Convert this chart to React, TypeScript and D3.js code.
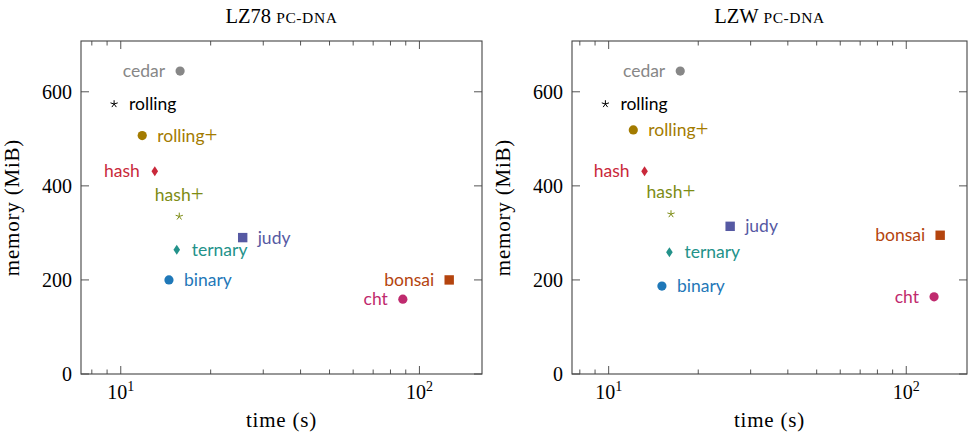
import React from 'react';
import * as d3 from 'd3';

const width = 969;
const height = 439;

const names = ['cedar', 'rolling', 'rolling+', 'hash', 'hash+', 'ternary', 'judy', 'binary', 'bonsai', 'cht'];
const markers = ['circle', 'star', 'circle', 'diamond', 'star', 'diamond', 'square', 'circle', 'square', 'circle'];
const colors = ['#878787', '#000000', '#a37b00', '#c9283a', '#7d8c14', '#23928a', '#5659a3', '#1f78b8', '#b4440e', '#bf2a6e'];
const labelPos = ['left', 'right', 'right', 'left', 'above', 'right', 'right', 'right', 'left', 'left'];

// LZ78 pc-dna
const lz78Time = [15.8, 9.5, 11.8, 13.0, 15.7, 15.4, 25.6, 14.5, 125.8, 88];
const lz78Mem = [644, 574, 507, 431, 335, 264, 290, 200, 200, 159];
// LZW pc-dna
const lzwTime = [17.4, 9.75, 12.1, 13.2, 16.2, 16.0, 25.6, 15.1, 130, 124];
const lzwMem = [644, 574, 519, 431, 340, 259, 314, 187, 295, 164];

const yTicks = [0, 200, 400, 600];

const serif = '"Liberation Serif", "DejaVu Serif", serif';
const sans = 'Lato, "Open Sans", sans-serif';

const Marker = ({ type, x, y, color }) => {
  if (type === 'circle') return <circle cx={x} cy={y} r={4.6} fill={color} />;
  if (type === 'square') return <rect x={x - 4.7} y={y - 4.7} width={9.4} height={9.4} fill={color} />;
  if (type === 'diamond') {
    return <path d={`M${x},${y - 5} L${x + 3.3},${y} L${x},${y + 5} L${x - 3.3},${y} Z`} fill={color} />;
  }
  // pgfplots "star": five strokes from the centre
  const arms = d3.range(5).map((i) => {
    const a = (-90 + i * 72) * Math.PI / 180;
    return `M${x},${y} L${x + 3.8 * Math.cos(a)},${y + 3.8 * Math.sin(a)}`;
  });
  return <path d={arms.join(' ')} stroke={color} strokeWidth={1} fill="none" />;
};

const Label = ({ name }) => {
  // the "+" in the original is a thin math plus
  if (name.endsWith('+')) {
    return (
      <>
        {name.slice(0, -1)}
        <tspan fontFamily={serif} fontSize={23}>+</tspan>
      </>
    );
  }
  return <>{name}</>;
};

const Panel = ({ title, times, mems, xDomain, left, right }) => {
  const top = 41;
  const bottom = 374;
  const x = d3.scaleLog().domain(xDomain).range([left, right]);
  const y = d3.scaleLinear().domain([0, 708]).range([bottom, top]);
  const xTicks = x.ticks();
  const cx = (left + right) / 2;
  const [head, tail] = title.split(' ');

  return (
    <g>
      <text x={cx} y={23} textAnchor="middle" fontFamily={serif} fontSize={20.5}>
        {head}{' '}
        <tspan fontSize={15.5} letterSpacing={0.6}>{tail.toUpperCase()}</tspan>
      </text>

      {xTicks.map((t) => {
        const major = Math.abs(Math.log10(t) - Math.round(Math.log10(t))) < 1e-9;
        const len = major ? 8 : 4.5;
        return (
          <g key={t}>
            <line x1={x(t)} x2={x(t)} y1={bottom} y2={bottom - len} stroke="#555" />
            <line x1={x(t)} x2={x(t)} y1={top} y2={top + len} stroke="#555" />
            {major && (
              <text x={x(t)} y={399} textAnchor="middle" fontFamily={serif} fontSize={20}>
                10<tspan fontSize={14} dy={-8}>{Math.round(Math.log10(t))}</tspan>
              </text>
            )}
          </g>
        );
      })}

      {yTicks.map((t) => (
        <g key={t}>
          <line x1={left} x2={left + 8} y1={y(t)} y2={y(t)} stroke="#555" />
          <line x1={right} x2={right - 8} y1={y(t)} y2={y(t)} stroke="#555" />
          <text x={left - 9} y={y(t)} dy="0.35em" textAnchor="end" fontFamily={serif} fontSize={20}>{t}</text>
        </g>
      ))}

      <rect x={left} y={top} width={right - left} height={bottom - top} fill="none" stroke="#444" strokeWidth={1.1} />

      <text x={cx} y={427} textAnchor="middle" fontFamily={serif} fontSize={21} letterSpacing={0.8}>time (s)</text>
      <text
        transform={`translate(${left - 62}, ${(top + bottom) / 2}) rotate(-90)`}
        textAnchor="middle"
        fontFamily={serif}
        fontSize={21}
        letterSpacing={0.8}>memory (MiB)</text>

      {names.map((name, i) => {
        const px = x(times[i]);
        const py = y(mems[i]);
        const pos = labelPos[i];
        let lx = px + 15;
        let ly = py;
        let anchor = 'start';
        if (pos === 'left') { lx = px - 15; anchor = 'end'; }
        if (pos === 'above') { lx = px; ly = py - 22; anchor = 'middle'; }
        return (
          <g key={name}>
            <Marker type={markers[i]} x={px} y={py} color={colors[i]} />
            <text x={lx} y={ly} dy="0.35em" textAnchor={anchor} fontFamily={sans} fontSize={17.5} fill={colors[i]}>
              <Label name={name} />
            </text>
          </g>
        );
      })}
    </g>
  );
};

export default function App() {
  return (
    <svg width={width} height={height} style={{ position: 'absolute', left: 0, top: 0, background: '#fff' }}>
      <Panel title="LZ78 pc-dna" times={lz78Time} mems={lz78Mem} xDomain={[7.36, 162]} left={81} right={482} />
      <Panel title="LZW pc-dna" times={lzwTime} mems={lzwMem} xDomain={[7.53, 160]} left={572} right={967} />
    </svg>
  );
}
